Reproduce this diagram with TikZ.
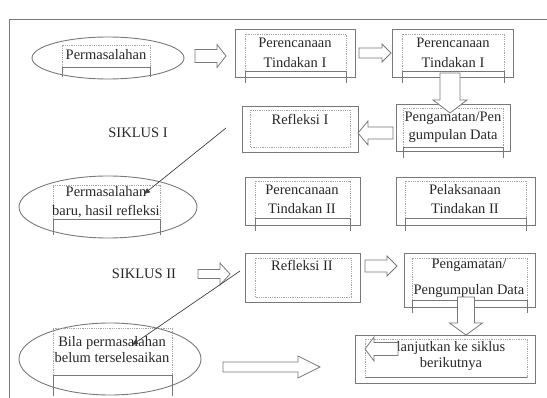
\documentclass[tikz,border=0pt]{standalone}
\usepackage{fontspec}
\setmainfont{Liberation Serif}
\usetikzlibrary{arrows.meta,shapes.geometric}
\definecolor{lg}{RGB}{120,120,120}
\definecolor{dg}{RGB}{165,165,165}
\definecolor{tx}{RGB}{40,40,40}
\tikzset{
  x=1pt,y=-1pt,
  obox/.style={draw=lg,line width=0.9pt,rectangle,inner sep=0pt},
  oval/.style={draw=lg,line width=0.9pt,ellipse,inner sep=0pt},
  txt/.style={text=tx,align=center,inner sep=0pt,font=\fontsize{14.5}{#1}\selectfont},
  txt/.default=19,
  dotline/.style={draw=dg,line width=0.5pt,dash pattern=on 0.9pt off 0.9pt},
  tickline/.style={draw=lg,line width=0.5pt},
  harrow/.style={draw=lg,line width=0.8pt,fill=white,line join=miter},
  thinarrow/.style={draw=black!75,line width=0.7pt,-{Triangle[length=6pt,width=5pt]}},
  frameline/.style={draw=lg,line width=0.9pt}
}
% box node from corner coordinates
\newcommand{\mybox}[5]{\node[obox,minimum width={#4-#2},minimum height={#5-#3}] (#1) at ({(#2+#4)/2},{(#3+#5)/2}) {};}
\newcommand{\myoval}[5]{\node[oval,minimum width={#4},minimum height={#5}] (#1) at (#2,#3) {};}
% decoration: dotted frame x1 y1 x2 ysolid, solid line, ticks to ytick
\newcommand{\deco}[6]{%
  \draw[dotline] (#1,#5) -- (#1,#2) -- (#3,#2) -- (#3,#5);
  \draw[tickline] (#1,#5) -- (#3,#5);
  \draw[tickline] (#1,#5) -- (#1,#6);
  \draw[tickline] (#3,#5) -- (#3,#6);}
\newcommand{\dotbox}[4]{\draw[dotline] (#1,#2) rectangle (#3,#4);}
% hollow arrow: tail point, angle, length, shaft half, head half, head length
\newcommand{\harr}[6]{%
  \draw[harrow,shift={#1},rotate=#2] (0,-#4) -- ({#3-#6},-#4) -- ({#3-#6},-#5) -- (#3,0) -- ({#3-#6},#5) -- ({#3-#6},#4) -- (0,#4) -- cycle;}
\begin{document}
\begin{tikzpicture}
\useasboundingbox (0,0) rectangle (547,398);
% frame
\draw[frameline] (9,400) -- (9,19) -- (549,19);

% first row
\myoval{e1}{108}{58}{152}{42}
\deco{62}{45}{150}{67}{67}{77}
\node[txt] (te1) at (106,55) {Permasalahan};

\mybox{b1}{235}{29}{355}{77}
\deco{245}{34}{346}{71}{71}{83}
\node[txt=20] (tb1) at (295,53) {Perencanaan\\Tindakan I};

\mybox{b2}{392}{29}{513}{77}
\deco{402}{34}{504}{71}{71}{83}
\node[txt=20] (tb2) at (453,53) {Perencanaan\\Tindakan I};

% second row
\mybox{b4}{242}{106}{358}{152}
\dotbox{250}{110}{350}{147}
\node[txt] (tb4) at (300,119) {Refleksi I};

\mybox{b3}{396}{104}{510}{151}
\deco{403}{108}{503}{147}{147}{158}
\node[txt=18] (tb3) at (453,127) {Pengamatan/Pen\\gumpulan Data};

\node[txt] (s1) at (138,133) {SIKLUS I};

% third row
\myoval{e2}{108}{207}{178}{62}
\deco{53}{185}{160}{219}{219}{235}
\node[txt] (te2) at (106,202.5) {Permasalahan\\baru, hasil refleksi};

\mybox{b5}{245}{177}{360}{225}
\deco{255}{181}{350}{218}{218}{231}
\node[txt] (tb5) at (302,199) {Perencanaan\\Tindakan II};

\mybox{b6}{396}{177}{535}{225}
\deco{405}{181}{526}{218}{218}{231}
\node[txt] (tb6) at (465,199) {Pelaksanaan\\Tindakan II};

% fourth row
\node[txt] (s2) at (144,274) {SIKLUS II};

\mybox{b7}{245}{253}{360}{302}
\dotbox{255}{258}{351}{297}
\node[txt] (tb7) at (302,265) {Refleksi II};

\mybox{b8}{404}{253}{535}{307}
\deco{412}{258}{527}{300}{300}{313}
\node[txt=26] (tb8) at (469,278) {Pengamatan/\\Pengumpulan Data};

% fifth row
\myoval{e3}{110}{359}{182}{72}
\deco{53}{328}{172}{375}{375}{396}
\node[txt=16] (te3) at (112,350) {Bila permasalahan\\belum terselesaikan};

\mybox{b9}{355}{335}{535}{383}
\dotbox{365}{339}{527}{377}
\draw[tickline] (365,377) -- (527,377);
\node[txt=16] (tb9) at (451,356) {lanjutkan ke siklus\\berikutnya};

% hollow arrows
\harr{(195,56)}{0}{31}{6.5}{11.5}{9}
\harr{(359,53)}{0}{32}{5}{9}{9}
\harr{(450,73)}{-90}{40}{10}{17}{13}
\harr{(393,133)}{180}{35}{6}{12}{10}
\harr{(198,274)}{0}{32}{4.5}{11}{10}
\harr{(365,266)}{0}{32}{6}{10}{10}
\harr{(466,297)}{-90}{38}{8.5}{16.5}{12}
\harr{(398,349)}{180}{33}{6.5}{12}{9}
\harr{(223,367)}{0}{97}{5}{11}{22}

% thin arrows
\coordinate (c1s) at (226,128);
\coordinate (c1e) at (144,194);
\draw[thinarrow] (c1s) -- (c1e);
\coordinate (c2s) at (240,271);
\coordinate (c2e) at (132,345);
\draw[thinarrow] (c2s) -- (c2e);
\end{tikzpicture}
\end{document}
